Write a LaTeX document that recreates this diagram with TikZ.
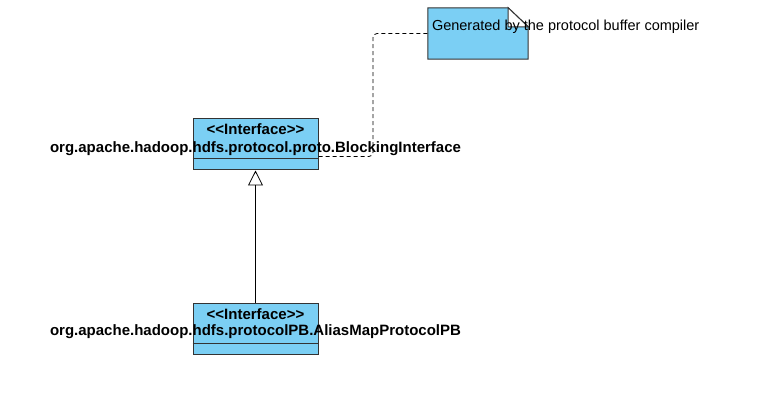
\documentclass[tikz,border=0pt]{standalone}
\usepackage{fontspec}
\setmainfont{Liberation Sans}
\usetikzlibrary{arrows.meta,positioning,calc}
\definecolor{umlFill}{RGB}{123,207,244}
\definecolor{umlLine}{RGB}{51,51,51}
\tikzset{
  umlClass/.style={draw=umlLine, line width=1pt, fill=umlFill, minimum width=125pt, minimum height=51pt, inner sep=0pt},
  umlText/.style={font=\fontsize{15}{17}\selectfont\bfseries, inner sep=0pt, anchor=base},
  noteText/.style={font=\fontsize{14.5}{17}\selectfont, inner sep=0pt, anchor=base west},
  noteBox/.style={minimum width=100pt, minimum height=51pt, inner sep=0pt},
  inheritArrow/.style={-{Triangle[open, length=15pt, width=15pt]}, line width=0.8pt},
  noteLink/.style={dash pattern=on 4pt off 3pt, line width=0.8pt, rounded corners=4pt}
}

\begin{document}
\begin{tikzpicture}[x=1pt, y=-1pt]
      \useasboundingbox (0,0) rectangle (768,406);
      % classes
      \node[umlClass] (proto) at (255.5,144.5) {};
      \node[umlClass] (aliasmap) at (255.5,328.5) {};
      \draw[umlLine, line width=1pt] ($(proto.south west)+(0,-11.5)$) -- ($(proto.south east)+(0,-11.5)$);
      \draw[umlLine, line width=1pt] ($(aliasmap.south west)+(0,-11.5)$) -- ($(aliasmap.south east)+(0,-11.5)$);
      \node[umlText] (protoStereo) at ($(proto.north)+(0,16.5)$) {<{}<Interface>{}>};
      \node[umlText] (protoName) at ($(proto.north)+(0,34)$) {org.apache.hadoop.hdfs.protocol.proto.BlockingInterface};
      \node[umlText] (aliasStereo) at ($(aliasmap.north)+(0,16.5)$) {<{}<Interface>{}>};
      \node[umlText] (aliasName) at ($(aliasmap.north)+(0,33)$) {org.apache.hadoop.hdfs.protocolPB.AliasMapProtocolPB};
      % note
      \node[noteBox] (note) at (478,33.5) {};
      \draw[umlLine, line width=1pt, fill=umlFill] (note.south west) -- (note.north west) -- ($(note.north east)+(-20,0)$) -- ($(note.north east)+(0,19)$) -- (note.south east) -- cycle;
      \draw[umlLine, line width=1pt, fill=white] ($(note.north east)+(-20,0)$) -- ($(note.north east)+(0,19)$) -- ($(note.north east)+(-20,19)$) -- cycle;
      \node[noteText] (noteLabel) at ($(note.north west)+(4,23)$) {Generated by the protocol buffer compiler};
      % connectors
      \coordinate (bend) at (373,156.5);
      \draw[inheritArrow] (aliasmap.north) -- (proto.south);
      \draw[noteLink] ($(proto.east)+(0,12)$) -- (bend) |- (note.west);
    \end{tikzpicture}
\end{document}
